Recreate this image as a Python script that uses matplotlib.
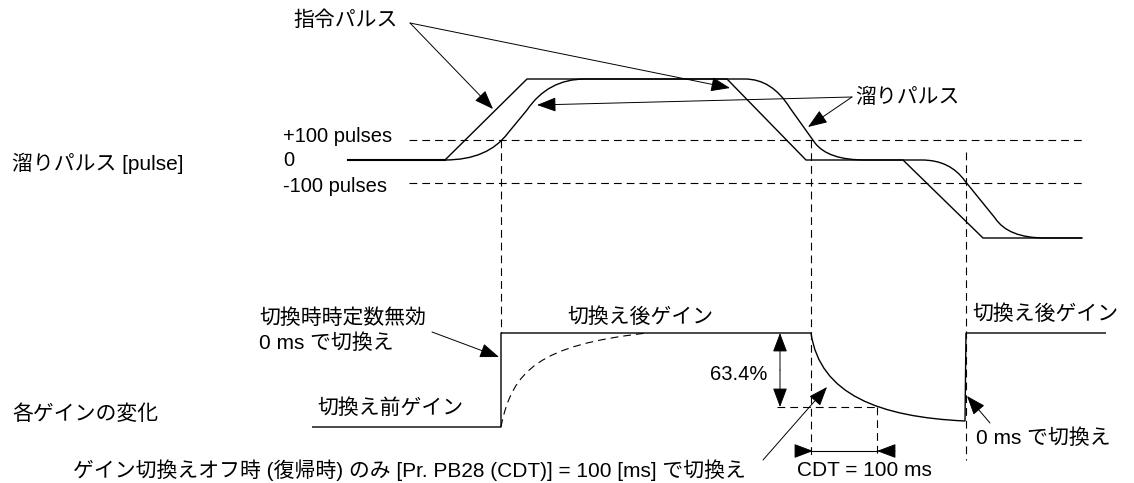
#!/usr/bin/env python3
# Gain switching diagram: droop pulses vs. gain change (CDT)

import matplotlib
matplotlib.use("Agg")
import matplotlib.pyplot as plt
from matplotlib.path import Path
from matplotlib.patches import PathPatch

plt.rcParams["font.family"] = ["Liberation Sans", "Noto Sans CJK JP", "DejaVu Sans"]

# ---- diagram data (figure pixel units, y grows downward) ----
LEVEL_ZERO = 160
LEVEL_PLUS = 140
LEVEL_MINUS = 183
LEVEL_TOP = 79
LEVEL_BOTTOM = 238

# command pulse (straight segments)
CMD_X = [348, 445, 527, 727, 806, 903, 983, 1082]
CMD_Y = [160, 160, 79, 79, 160, 160, 238, 238]

# droop pulse (M = move, Q = quadratic control pair, L = line)
FOLLOW_KIND = "MQQLQQLQQLQQLQQLQQL"
FOLLOW_X = [445, 488, 508, 527, 548, 585, 745, 772, 790, 815, 828, 865,
            922, 950, 965, 995, 1008, 1045, 1082]
FOLLOW_Y = [160, 160, 133, 110, 79, 79, 79, 79, 108, 143, 160, 160,
            160, 160, 181, 218, 238, 238, 238]

# gain trace (C = cubic control triple)
GAIN_KIND = "MLLLCCCLL"
GAIN_X = [312, 501, 501, 811, 820, 880, 965, 966, 1106]
GAIN_Y = [427, 427, 333, 333, 395, 417, 421, 333, 333]

# gain with time constant (dashed reference)
SOFT_KIND = "MCCC"
SOFT_X = [501, 512, 540, 647]
SOFT_Y = [427, 370, 345, 333]

CDT_START = 811
CDT_END = 877
GAIN_634 = 407

BLACK = "black"


def build_path(kinds, xs, ys):
    codes = {"M": Path.MOVETO, "L": Path.LINETO,
             "Q": Path.CURVE3, "C": Path.CURVE4}
    return Path(list(zip(xs, ys)), [codes[k] for k in kinds])


def arrow(ax, start, end, style="-|>"):
    ax.annotate(
        "",
        xy=end,
        xytext=start,
        arrowprops=dict(
            arrowstyle=f"{style},head_length=0.85,head_width=0.32",
            color=BLACK,
            lw=0.7,
            shrinkA=0,
            shrinkB=0,
            mutation_scale=14,
        ),
    )


def main() -> None:
    fig = plt.figure(figsize=(11.34, 4.83), dpi=100)
    ax = fig.add_axes([0, 0, 1, 1])
    ax.set_xlim(0, 1134)
    ax.set_ylim(483, 0)
    ax.axis("off")

    dash = dict(color=BLACK, lw=0.8, dashes=(7, 4.5))
    solid = dict(color=BLACK, lw=1.0)
    fs = 15
    fs_latin = 14.5

    # reference levels
    ax.plot([409, 1083], [LEVEL_PLUS, LEVEL_PLUS], **dash)
    ax.plot([409, 1083], [LEVEL_MINUS, LEVEL_MINUS], **dash)

    # vertical guides
    ax.plot([501, 501], [LEVEL_PLUS, 333], **dash)
    ax.plot([CDT_START, CDT_START], [LEVEL_PLUS, 456], **dash)
    ax.plot([966, 966], [152, 460], **dash)
    ax.plot([CDT_END, CDT_END], [GAIN_634, 456], **dash)
    ax.plot([777, CDT_END], [GAIN_634, GAIN_634], **dash)

    # pulses
    ax.plot(CMD_X, CMD_Y, **solid)
    ax.plot([348, 445], [LEVEL_ZERO, LEVEL_ZERO], color=BLACK, lw=1.5)
    ax.add_patch(PathPatch(build_path(FOLLOW_KIND, FOLLOW_X, FOLLOW_Y),
                           fill=False, ec=BLACK, lw=1.0))

    # gains
    ax.add_patch(PathPatch(build_path(GAIN_KIND, GAIN_X, GAIN_Y),
                           fill=False, ec=BLACK, lw=1.0))
    ax.add_patch(PathPatch(build_path(SOFT_KIND, SOFT_X, SOFT_Y),
                           fill=False, ec=BLACK, lw=0.8, ls=(0, (7, 4.5))))

    # labels
    ax.text(293, 20, "指令パルス", fontsize=fs, va="center")
    ax.text(855, 97, "溜りパルス", fontsize=fs, va="center")
    ax.text(12, 163, "溜りパルス [pulse]", fontsize=fs, va="center")
    ax.text(283, 137, "+100 pulses", fontsize=fs_latin, va="center")
    ax.text(283, 161, "0", fontsize=fs_latin, va="center")
    ax.text(283, 186, "-100 pulses", fontsize=fs_latin, va="center")
    ax.text(259, 318, "切換時時定数無効", fontsize=fs, va="center")
    ax.text(259, 343, "0 ms で切換え", fontsize=fs, va="center")
    ax.text(640, 317, "切換え後ゲイン", fontsize=fs, va="center", ha="center")
    ax.text(1045, 314, "切換え後ゲイン", fontsize=fs, va="center", ha="center")
    ax.text(390, 408, "切換え前ゲイン", fontsize=fs, va="center", ha="center")
    ax.text(739, 375, "63.4%", fontsize=fs_latin, va="center", ha="center")
    ax.text(12, 414, "各ゲインの変化", fontsize=fs, va="center")
    ax.text(73, 470,
            "ゲイン切換えオフ時 (復帰時) のみ [Pr. PB28 (CDT)] = 100 [ms] で切換え",
            fontsize=fs, va="center")
    ax.text(797, 471, "CDT = 100 ms", fontsize=fs, va="center")
    ax.text(976, 438, "0 ms で切換え", fontsize=fs, va="center")

    # arrows
    arrow(ax, (410, 23), (493, 109))
    arrow(ax, (410, 23), (730, 88))
    arrow(ax, (852, 97), (808, 127))
    arrow(ax, (852, 97), (537, 105))
    arrow(ax, (432, 332), (499, 357))
    arrow(ax, (780, 370), (780, 333))
    arrow(ax, (780, 370), (780, GAIN_634))
    arrow(ax, (763, 460), (827, 387))
    arrow(ax, (990, 423), (967, 396))

    # CDT dimension
    ax.plot([CDT_START, CDT_END], [451, 451], color=BLACK, lw=0.8)
    arrow(ax, (798, 451), (CDT_START + 2, 451))
    arrow(ax, (895, 451), (CDT_END, 451))

    fig.savefig("out.png", dpi=100, facecolor="white")
    plt.close(fig)


if __name__ == "__main__":
    main()
